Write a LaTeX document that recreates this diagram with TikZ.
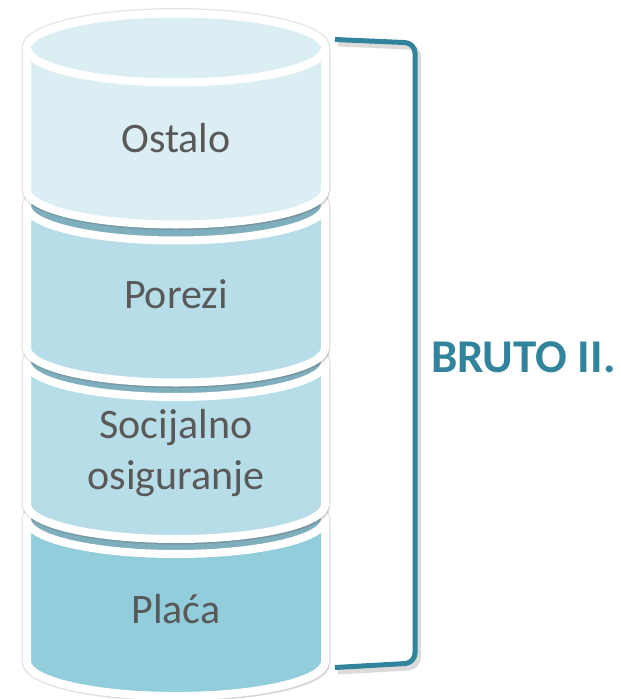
\documentclass[tikz,border=0pt]{standalone}
\usepackage{fontspec}
\setmainfont{Carlito}
\usetikzlibrary{shadows}
\definecolor{brutoteal}{HTML}{31849B}
\definecolor{labelgray}{HTML}{595959}
\definecolor{ostalofill}{HTML}{DBEEF4}
\definecolor{porezifill}{HTML}{B7DEE8}
\definecolor{placafill}{HTML}{92CDDC}
\definecolor{rimshade}{HTML}{7FAEBC}
\tikzset{
  cylpart/.style={draw=white, line width=8pt, line join=round,
    preaction={draw=black, draw opacity=0.10, line width=11pt},
    drop shadow={opacity=0.18, shadow xshift=4pt, shadow yshift=-5pt}},
  rimline/.style={draw=white, line width=8pt},
  cyllabel/.style={text=labelgray, font=\fontsize{42}{51}\selectfont, align=center, inner sep=0pt},
  bracketline/.style={draw=brutoteal, line width=5pt, rounded corners=10pt},
  bracketshadow/.style={draw=black, opacity=0.14, line width=6pt, rounded corners=10pt}
}
\newcommand\drawcyl[3]{%
  \path[cylpart, fill=#2] (27,#1) -- ++(0,142)
    arc[start angle=180, end angle=0, x radius=149, y radius=34.5] -- ++(0,-142)
    arc[start angle=0, end angle=-180, x radius=149, y radius=34.5] -- cycle;
  \path[rimline, fill=#3] (176,#1) ellipse[x radius=149, y radius=34.5];
}
\begin{document}
\begin{tikzpicture}[x=1pt, y=-1pt]
\useasboundingbox (0,0) rectangle (621,699);
\drawcyl{519.5}{placafill}{rimshade}
\drawcyl{362.5}{porezifill}{rimshade}
\drawcyl{206}{porezifill}{rimshade}
\drawcyl{48}{ostalofill}{ostalofill}
\node[cyllabel, anchor=base] (ostalo) at (176,152) {Ostalo};
\node[cyllabel, anchor=base] (porezi) at (176,308) {Porezi};
\node[cyllabel] (socijalno) at (176,453) {Socijalno\\osiguranje};
\node[cyllabel, anchor=base] (placa) at (176,623) {Plaća};
\coordinate (brtop) at (335,39.5);
\coordinate (brbot) at (335,667.5);
\draw[bracketshadow] ([shift={(3,4)}]brtop) -- (418,47) -- (418,667) -- ([shift={(3,4)}]brbot);
\draw[bracketline] (brtop) -- (415,43) -- (415,663) -- (brbot);
\node[anchor=west, inner sep=0pt, text=brutoteal, font=\fontsize{47}{50}\selectfont\bfseries] (bruto) at (431,357) {BRUTO II.};
\end{tikzpicture}
\end{document}
